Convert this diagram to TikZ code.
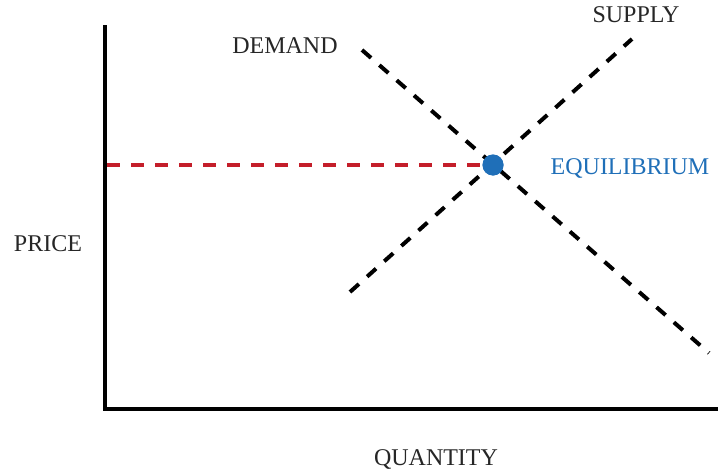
\documentclass[tikz,border=0pt]{standalone}
\usepackage{fontspec}
\setmainfont{Liberation Serif}
\definecolor{eqred}{HTML}{C41E2A}
\definecolor{eqblue}{HTML}{1F6FB8}
\tikzset{
  axisline/.style={line width=4pt, black},
  curveline/.style={line width=4pt, black, dash pattern=on 12pt off 11pt},
  guideline/.style={line width=4pt, eqred, dash pattern=on 13pt off 11pt},
  lbl/.style={font=\fontsize{24}{28}\selectfont, text=black!85, inner sep=0pt, anchor=base},
  eqdot/.style={circle, fill=eqblue, minimum size=21pt, inner sep=0pt}
}
\begin{document}
\begin{tikzpicture}[x=1pt,y=-1pt]
\useasboundingbox (0,0) rectangle (718,471);
% axes
\coordinate (ytop) at (105,25);
\coordinate (origin) at (105,409);
\coordinate (xend) at (718,409);
\draw[axisline] (ytop) -- (origin) -- (xend);
% curves
\coordinate (d1) at (362,50);
\coordinate (d2) at (709,353);
\coordinate (s1) at (350,292);
\coordinate (s2) at (632,39);
\coordinate (p0) at (107,165);
\draw[curveline] (d1) -- (d2);
\draw[curveline] (s1) -- (s2);
\node[eqdot] (eq) at (493,165) {};
\draw[guideline] (p0) -- (eq.west);
\node[eqdot] at (eq) {};
% labels
\node[lbl] (demand) at (285,53) {DEMAND};
\node[lbl] (supply) at (636,23) {SUPPLY};
\node[lbl, text=eqblue] (eqlbl) at (630,174) {EQUILIBRIUM};
\node[lbl] (price) at (48,251) {PRICE};
\node[lbl] (quantity) at (436,465) {QUANTITY};
\end{tikzpicture}
\end{document}
